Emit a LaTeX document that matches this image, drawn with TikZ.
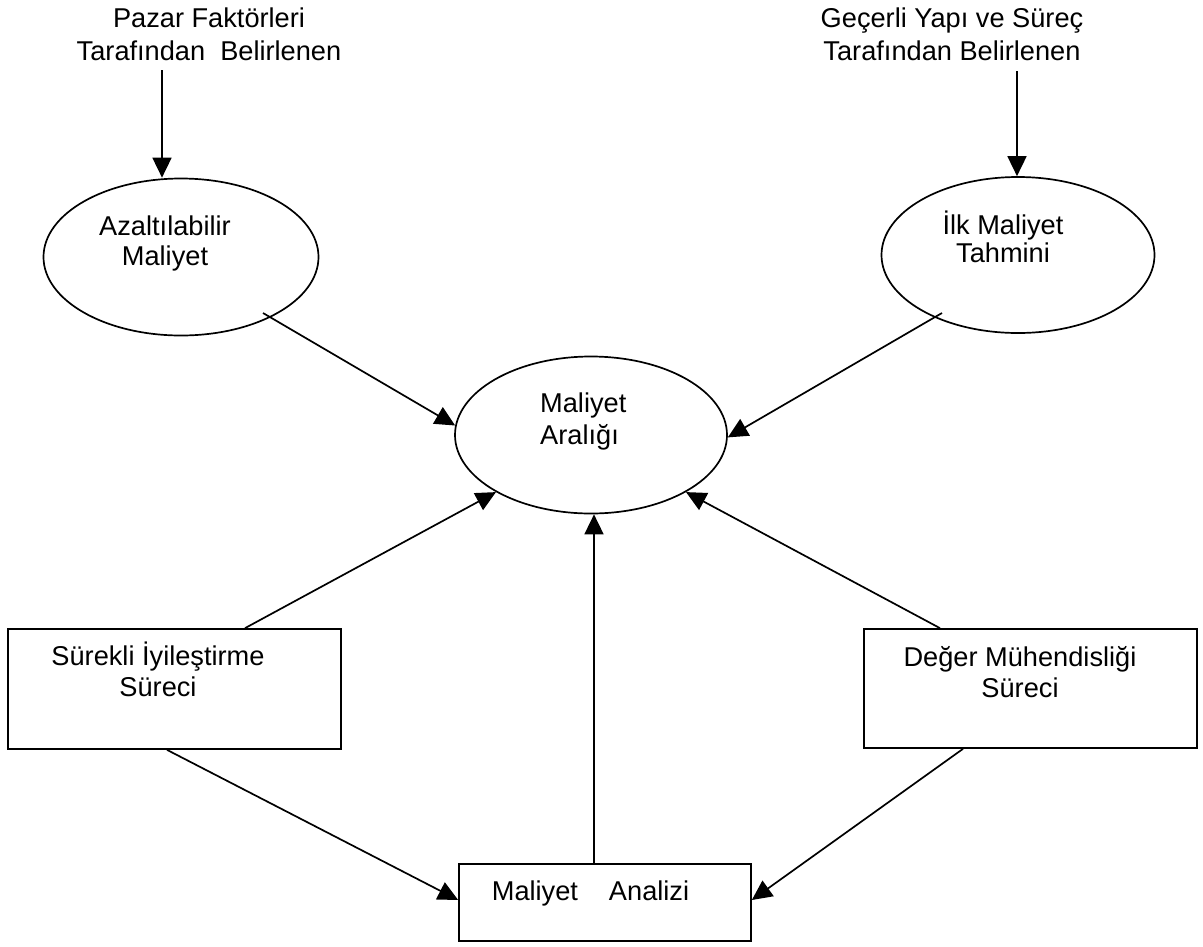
\documentclass[tikz,border=0pt]{standalone}
\usepackage{fontspec}
\setmainfont{Liberation Sans}
\usetikzlibrary{arrows.meta,shapes.geometric,calc}
\begin{document}
\begin{tikzpicture}[x=1pt,y=-1pt,
  lbl/.style={inner sep=0pt, align=center},
  fs/.style={font=\fontsize{27.2}{#1}\selectfont},
  oval/.style={draw, ellipse, line width=1.7pt, inner sep=0pt},
  box/.style={draw, rectangle, line width=1.7pt, inner sep=0pt},
  arr/.style={line width=1.7pt, -{Triangle[length=20pt,width=19pt]}}]
\useasboundingbox (0,0) rectangle (1203,946);

% shapes
\node[oval, minimum width=275pt, minimum height=157pt] (az)  at (181,257) {};
\node[oval, minimum width=273pt, minimum height=156pt] (ilk) at (1018,255) {};
\node[oval, minimum width=272pt, minimum height=157pt] (cm)  at (591,435) {};
\node[box, minimum width=333pt, minimum height=120pt] (sr) at (174.5,689) {};
\node[box, minimum width=333pt, minimum height=119pt] (dm) at (1030.5,688.5) {};
\node[box, minimum width=292pt, minimum height=77pt]  (ma) at (605,902.5) {};

% texts
\node[lbl, fs=33] (t1) at (209,33.8) {Pazar Faktörleri\\Tarafından\ \ Belirlenen};
\node[lbl, fs=33] (t2) at (952,34) {Geçerli Yapı ve Süreç\\Tarafından Belirlenen};
\node[lbl, fs=30] (azt) at (165,243) {Azaltılabilir\\Maliyet};
\node[lbl, fs=28] (ilkt) at (1003,237.3) {İlk Maliyet\\Tahmini};
\node[lbl, fs=32, align=left, anchor=west] (cmt) at (540,421.3) {Maliyet\\Aralığı};
\node[lbl, fs=31] (srt) at (158,669.7) {Sürekli İyileştirme\\Süreci};
\node[lbl, fs=31] (dmt) at (1020,671.7) {Değer Mühendisliği\\Süreci};
\node[lbl, fs=31, anchor=base] (mat) at (590.5,900) {Maliyet\hspace{31pt}Analizi};

% connectors
\coordinate (p1) at (162,70);
\coordinate (p2) at (1017,71);
\coordinate (v) at (594,0);
\draw[arr] (p1) -- (p1 |- az.north);
\draw[arr] (p2) -- (p2 |- ilk.north);
\draw[arr] ($(az.center)+(82,56)$) -- (cm.176.6);
\draw[arr] ($(ilk.center)+(-76,58)$) -- (cm.-1);
\draw[arr] ($(sr.north)+(70.5,0)$) -- (cm.211.5);
\draw[arr] (ma.north -| v) -- (cm.south -| v);
\draw[arr] ($(dm.north)+(-90.5,0)$) -- (cm.-31.5);
\draw[arr] ($(sr.south)+(-7.5,0)$) -- ([yshift=2.5pt]ma.west);
\draw[arr] ($(dm.south)+(-67.5,0)$) -- ([yshift=2.5pt]ma.east);
\end{tikzpicture}
\end{document}
